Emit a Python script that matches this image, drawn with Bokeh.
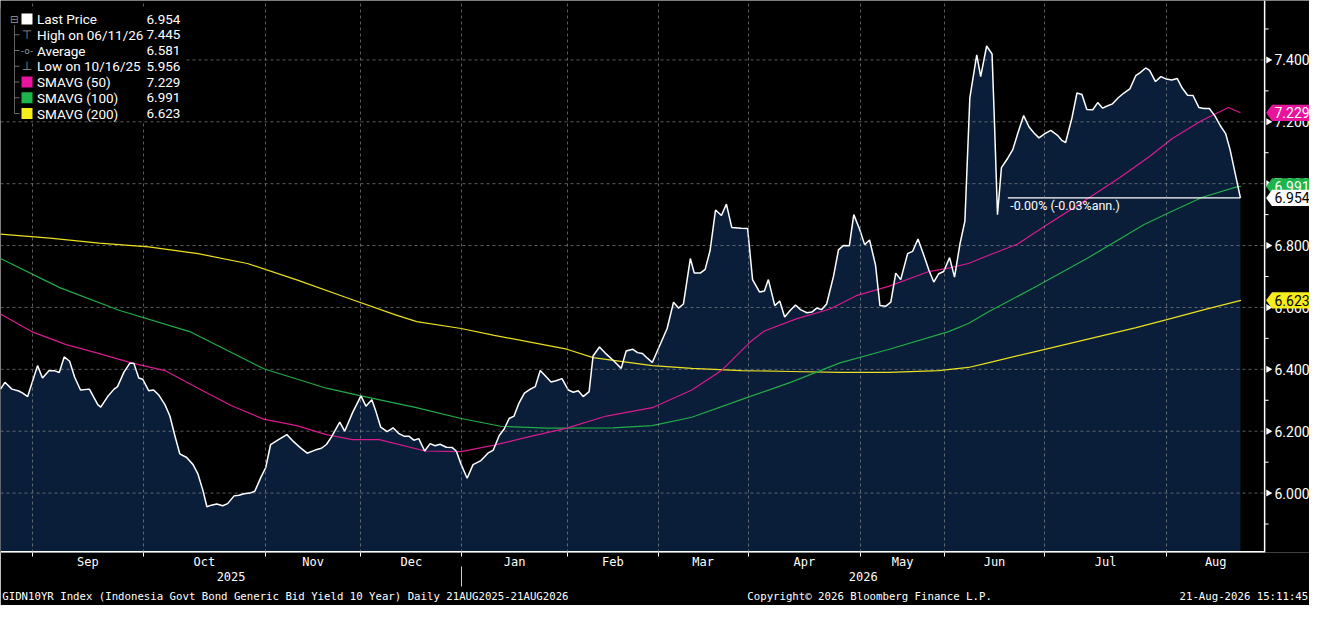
import math
from bokeh.plotting import figure
from bokeh.models import Range1d, FixedTicker, Label, BoxAnnotation, LinearAxis
from bokeh.core.properties import value
from bokeh.embed import file_html
from bokeh.resources import INLINE

# ---------------- data (trading-day index, yield %) ----------------
price_day = [
    0.0, 0.9, 2.3, 3.7, 4.5, 5.5, 7.5, 8.5, 9.8, 11.0,
    11.9, 12.9, 14.0, 15.0, 16.2, 18.0, 19.7, 20.3, 21.7, 23.0,
    23.7, 25.0, 26.2, 27.0, 28.0, 28.8, 30.0, 31.0, 32.0, 33.3,
    34.3, 35.3, 36.3, 37.7, 39.0, 40.0, 41.0, 41.8, 42.7, 43.8,
    45.0, 46.0, 47.3, 48.3, 49.3, 50.5, 51.5, 52.7, 53.7, 54.7,
    56.3, 58.0, 59.3, 60.7, 62.1, 63.7, 65.0, 66.0, 67.0, 68.7,
    69.7, 71.3, 73.0, 74.0, 75.2, 76.0, 77.0, 78.3, 79.5, 80.7,
    81.7, 82.7, 83.7, 84.7, 85.9, 87.0, 88.0, 89.0, 90.3, 91.5,
    92.3, 93.3, 94.5, 95.7, 97.3, 98.7, 99.8, 101.0, 102.0, 103.0,
    104.0, 105.0, 106.1, 107.3, 108.3, 109.3, 111.5, 112.5, 113.7, 115.0,
    116.0, 117.0, 118.0, 119.2, 120.0, 121.3, 122.7, 124.0, 125.7, 126.7,
    128.0, 129.0, 130.0, 131.0, 132.0, 135.0, 136.3, 137.3, 138.3, 139.7,
    140.5, 141.7, 142.7, 143.7, 144.8, 146.0, 147.0, 148.1, 150.0, 151.3,
    152.3, 153.7, 154.7, 155.5, 156.8, 157.8, 158.8, 160.0, 161.0, 162.0,
    163.3, 164.3, 165.3, 166.3, 167.3, 168.7, 169.7, 170.7, 171.9, 172.8,
    174.0, 175.0, 176.0, 177.2, 178.1, 179.3, 180.3, 181.3, 182.3, 183.7,
    184.7, 185.8, 187.0, 188.0, 189.0, 190.0, 191.0, 192.2, 193.2, 194.3,
    195.3, 196.3, 197.7, 198.5, 199.7, 200.8, 201.3, 201.9, 202.7, 204.0,
    205.0, 206.0, 207.2, 208.3, 209.3, 210.3, 211.5, 212.7, 214.0, 215.0,
    215.7, 217.0, 218.0, 219.0, 220.0, 221.2, 222.2, 223.2, 224.1, 225.2,
    226.3, 227.5, 228.7, 229.9, 230.8, 231.9, 232.7, 233.9, 235.0, 236.1,
    237.2, 238.3, 239.3, 240.4, 241.5, 242.7, 243.7, 244.8, 245.9, 247.0,
    248.1, 249.0, 250.0, 251.1,
]
price_val = [
    6.336, 6.358, 6.336, 6.330, 6.323, 6.312, 6.412, 6.372, 6.395, 6.395,
    6.390, 6.440, 6.426, 6.375, 6.333, 6.336, 6.286, 6.278, 6.312, 6.336,
    6.344, 6.391, 6.420, 6.420, 6.372, 6.368, 6.331, 6.333, 6.318, 6.286,
    6.249, 6.186, 6.127, 6.115, 6.092, 6.061, 6.008, 5.956, 5.961, 5.965,
    5.959, 5.966, 5.991, 5.993, 5.998, 6.000, 6.006, 6.050, 6.082, 6.157,
    6.173, 6.189, 6.167, 6.147, 6.129, 6.139, 6.145, 6.157, 6.181, 6.229,
    6.200, 6.260, 6.314, 6.281, 6.302, 6.265, 6.213, 6.199, 6.211, 6.192,
    6.184, 6.184, 6.171, 6.176, 6.136, 6.160, 6.153, 6.158, 6.148, 6.147,
    6.136, 6.092, 6.048, 6.092, 6.105, 6.129, 6.139, 6.186, 6.207, 6.241,
    6.249, 6.291, 6.323, 6.336, 6.344, 6.396, 6.359, 6.363, 6.370, 6.333,
    6.326, 6.331, 6.312, 6.328, 6.443, 6.472, 6.449, 6.430, 6.403, 6.459,
    6.465, 6.454, 6.451, 6.436, 6.422, 6.532, 6.617, 6.598, 6.611, 6.758,
    6.711, 6.711, 6.723, 6.784, 6.915, 6.897, 6.934, 6.858, 6.856, 6.855,
    6.690, 6.650, 6.653, 6.690, 6.606, 6.621, 6.569, 6.592, 6.608, 6.593,
    6.583, 6.585, 6.598, 6.593, 6.611, 6.701, 6.786, 6.800, 6.799, 6.900,
    6.852, 6.803, 6.818, 6.737, 6.606, 6.604, 6.617, 6.711, 6.690, 6.774,
    6.781, 6.821, 6.768, 6.721, 6.682, 6.709, 6.716, 6.761, 6.698, 6.805,
    6.879, 7.277, 7.416, 7.346, 7.445, 7.419, 7.193, 6.900, 7.052, 7.083,
    7.110, 7.162, 7.220, 7.183, 7.164, 7.148, 7.162, 7.172, 7.157, 7.139,
    7.133, 7.214, 7.293, 7.288, 7.240, 7.239, 7.262, 7.244, 7.251, 7.258,
    7.277, 7.293, 7.306, 7.349, 7.359, 7.374, 7.366, 7.330, 7.346, 7.338,
    7.335, 7.340, 7.309, 7.286, 7.285, 7.246, 7.243, 7.243, 7.220, 7.188,
    7.162, 7.110, 7.036, 6.954,
]

sma50_day = [0, 6.3, 13.3, 19.3, 26.7, 33.3, 40, 46.7, 53.3, 60, 66, 71.3, 76.7, 86, 93.3,
             100, 106.7, 114.7, 122.7, 132, 140, 146, 152, 154.7, 161.3, 168, 173.3, 180,
             188, 192, 196, 200, 206, 212, 219.3, 226.7, 232.7, 237.3, 243.3, 248.7, 251.1]
sma50_val = [6.579, 6.522, 6.480, 6.454, 6.420, 6.396, 6.339, 6.283, 6.239, 6.218, 6.189,
             6.173, 6.173, 6.136, 6.134, 6.155, 6.181, 6.210, 6.249, 6.276, 6.333, 6.396,
             6.491, 6.524, 6.564, 6.595, 6.638, 6.669, 6.716, 6.727, 6.742, 6.768, 6.805,
             6.868, 6.942, 7.020, 7.088, 7.146, 7.204, 7.246, 7.229]

sma100_day = [0, 12, 24, 38.3, 53.3, 66, 73, 84, 93.3, 101.3, 110.7, 124, 132, 140, 150,
              160, 170, 180, 192, 196, 200, 210, 220, 231.6, 236.6, 243.4, 250, 251.2]
sma100_val = [6.758, 6.664, 6.591, 6.522, 6.402, 6.339, 6.314, 6.277, 6.241, 6.216, 6.210,
              6.211, 6.218, 6.245, 6.302, 6.358, 6.421, 6.465, 6.522, 6.548, 6.585, 6.670,
              6.758, 6.868, 6.906, 6.956, 6.988, 6.991]

sma200_day = [0, 10, 20, 30, 40, 50, 60, 70, 80, 84.3, 93.3, 100, 114.7, 120, 132, 140, 150,
              160, 170, 180, 190, 196, 200, 210, 220, 230, 236, 244, 251.2]
sma200_val = [6.837, 6.824, 6.808, 6.796, 6.774, 6.742, 6.689, 6.632, 6.576, 6.554, 6.532,
              6.510, 6.465, 6.438, 6.412, 6.403, 6.396, 6.393, 6.390, 6.390, 6.396, 6.406,
              6.421, 6.459, 6.497, 6.535, 6.560, 6.594, 6.623]

month_start_day = [6.4, 29.0, 53.6, 73.0, 93.4, 114.8, 133.2, 151.4, 174.2, 191.2, 211.4, 236.2]
month_labels = ["Sep", "Oct", "Nov", "Dec", "Jan", "Feb", "Mar", "Apr", "May", "Jun", "Jul", "Aug"]
year_labels = ["2025", "2026"]
year_start_index = 4          # "Jan" opens 2026
y_ticks = [6.0, 6.2, 6.4, 6.6, 6.8, 7.0, 7.2, 7.4]
y_minor = [5.9, 6.1, 6.3, 6.5, 6.7, 6.9, 7.1, 7.3, 7.5]

legend_names = ["Last Price", "High on 06/11/26", "Average", "Low on 10/16/25",
                "SMAVG (50)", "SMAVG (100)", "SMAVG (200)"]
legend_values = [6.954, 7.445, 6.581, 5.956, 7.229, 6.991, 6.623]
change_text = "-0.00% (-0.03%ann.)"
change_start_day = 204.0
footer_texts = ["GIDN10YR Index (Indonesia Govt Bond Generic Bid Yield 10 Year) Daily 21AUG2025-21AUG2026",
                "Copyright\u00a9 2026 Bloomberg Finance L.P.",
                "21-Aug-2026 15:11:45"]

X_END = 256.0                  # end of the plotting area (days)
Y_LO, Y_HI = 5.808, 7.592

# ---------------- styles / layout ----------------
W, FH, BB = 1309, 552, 51
PX_PER_DAY = 4.938
X_MAX = W / PX_PER_DAY         # frame also holds the right-hand price scale
footer_pos = [57.7, 176.0, 251.8]
BG = "#000000"
FILL = "#0a1e39"
C50, C100, C200 = "#d81b8f", "#22ad47", "#ece020"
T50, T100, T200 = "#e8149b", "#1db54a", "#f7ec1c"
MONO = "DejaVu Sans Mono"
SANS = "Roboto"
GRID = "#9a9a9a"

p = figure(frame_width=W, frame_height=FH, x_range=Range1d(0, X_MAX), y_range=Range1d(Y_LO, Y_HI),
           y_axis_location=None, output_backend="svg", toolbar_location=None,
           background_fill_color=BG, border_fill_color=BG,
           min_border_left=0, min_border_top=0, min_border_right=0, min_border_bottom=BB)
p.outline_line_color = None

# vertical grid at month starts
xg = p.xgrid[0]
xg.ticker = FixedTicker(ticks=month_start_day)
xg.grid_line_color = GRID
xg.grid_line_alpha = 0.6
xg.grid_line_dash = "3 3"
xg.level = "glyph"
for g in p.ygrid:
    g.visible = False

# area under the price
area = p.varea(x=price_day, y1=Y_LO, y2=price_val, fill_color=FILL)
area.level = "underlay"
# horizontal grid (stops at the price scale)
p.segment(x0=[0] * len(y_ticks), x1=[X_END] * len(y_ticks), y0=y_ticks, y1=y_ticks,
          line_color=GRID, line_alpha=0.6, line_dash="3 3", line_width=1)

# moving averages + price
p.line(sma200_day, sma200_val, line_color=C200, line_width=1.2)
p.line(sma100_day, sma100_val, line_color=C100, line_width=1.2)
p.line(sma50_day, sma50_val, line_color=C50, line_width=1.2)
p.line(price_day, price_val, line_color="white", line_width=1.5)

# change annotation
p.line([change_start_day, price_day[-1]], [price_val[-1], price_val[-1]], line_color="white", line_width=1.3)
p.add_layout(Label(x=change_start_day + 0.5, y=price_val[-1], y_offset=-8, text=change_text,
                   text_font=SANS, text_font_size="12.5px", text_color="white",
                   text_baseline="middle", text_align="left"))

# ---------------- right-hand price scale ----------------
p.line([X_END, X_END], [Y_LO, Y_HI], line_color="white", line_width=1.5)
p.line([0, X_END], [Y_LO, Y_LO], line_color="white", line_width=3)
p.scatter(x=[X_END + 0.75] * len(y_ticks), y=y_ticks, marker="triangle", size=7,
          angle=-math.pi / 2, fill_color="white", line_color=None)
p.segment(x0=[X_END] * len(y_minor), x1=[X_END + 0.8] * len(y_minor), y0=y_minor, y1=y_minor,
          line_color="white", line_width=1)
p.text(x=[X_END + 2.0] * len(y_ticks), y=y_ticks, text=["%.3f" % t for t in y_ticks],
       text_font=value(SANS), text_font_size="14px", text_color="white",
       text_baseline="middle", text_align="left")

# value tags
TAG_H = 0.0262
tags = [(legend_values[5], T100, "white"), (legend_values[0], "white", "black"),
        (legend_values[4], T50, "white"), (legend_values[6], T200, "black")]
for val, bg, fg in tags:
    p.patch(x=[X_END + 0.3, X_END + 1.5, X_MAX + 1, X_MAX + 1, X_END + 1.5],
            y=[val, val + TAG_H, val + TAG_H, val - TAG_H, val - TAG_H],
            fill_color=bg, line_color=None)
    p.text(x=[X_END + 2.0], y=[val], text=["%.3f" % val], text_font=value(SANS),
           text_font_size="14px", text_color=fg, text_baseline="middle", text_align="left")

# ---------------- bottom axes ----------------
bounds = month_start_day + [X_END]
month_mid = [(bounds[i] + bounds[i + 1]) / 2 for i in range(len(month_labels))]
xa = p.xaxis[0]
xa.ticker = FixedTicker(ticks=month_mid, minor_ticks=month_start_day)
xa.major_label_overrides = {m: lab for m, lab in zip(month_mid, month_labels)}
xa.axis_line_color = None
xa.major_tick_line_color = None
xa.major_tick_in = 0
xa.major_tick_out = 0
xa.minor_tick_line_color = "white"
xa.minor_tick_in = 0
xa.minor_tick_out = 4
xa.major_label_standoff = -2
xa.major_label_text_font = MONO
xa.major_label_text_font_size = "12px"
xa.major_label_text_color = "white"

yb = [0.0, month_start_day[year_start_index], X_END]
year_mid = [(yb[i] + yb[i + 1]) / 2 for i in range(len(year_labels))]
ya2 = LinearAxis(ticker=FixedTicker(ticks=year_mid, minor_ticks=[]),
                 major_label_overrides={m: lab for m, lab in zip(year_mid, year_labels)},
                 axis_line_color=None, major_tick_line_color=None, major_tick_in=0, major_tick_out=0,
                 minor_tick_line_color=None, minor_tick_in=0, minor_tick_out=0,
                 major_label_standoff=0, major_label_text_font=MONO,
                 major_label_text_font_size="12px", major_label_text_color="white")
p.add_layout(ya2, "below")

# footer row; its single minor tick, drawn upwards, is the year separator
fa = LinearAxis(ticker=FixedTicker(ticks=footer_pos, minor_ticks=[month_start_day[year_start_index]]),
                major_label_overrides={m: t for m, t in zip(footer_pos, footer_texts)},
                axis_line_color=None, major_tick_line_color=None, major_tick_in=0, major_tick_out=0,
                minor_tick_line_color="#cfcfcf", minor_tick_in=17, minor_tick_out=3,
                major_label_standoff=3, major_label_text_font=MONO,
                major_label_text_font_size="10.7px", major_label_text_color="white")
p.add_layout(fa, "below")

# ---------------- legend box (top left) ----------------
p.add_layout(BoxAnnotation(left=0, right=184, top=8, bottom=120, left_units="canvas", right_units="canvas",
                           top_units="canvas", bottom_units="canvas", fill_color=BG, fill_alpha=1,
                           line_color=None, level="annotation"))
row0, step = 18.5, 15.75
rows = [row0 + i * step for i in range(len(legend_names))]
p.add_layout(Label(x=13.8, y=rows[0], x_units="canvas", y_units="canvas", text="\u229f",
                   text_font="DejaVu Sans", text_font_size="10px", text_color="#9a9a9a",
                   text_align="center", text_baseline="middle"))
p.add_layout(BoxAnnotation(left=13.5, right=14.5, top=rows[0] + 6, bottom=rows[-1],
                           left_units="canvas", right_units="canvas", top_units="canvas",
                           bottom_units="canvas", fill_color="#8a8a8a", fill_alpha=0.7, line_color=None))
icon_col = ["white", None, None, None, T50, T100, T200]
icon_txt = ["", "\u22a4", "-o-", "\u22a5", "", "", ""]
for i, ry in enumerate(rows):
    if i > 0:
        p.add_layout(BoxAnnotation(left=14, right=19, top=ry - 0.5, bottom=ry + 0.5,
                                   left_units="canvas", right_units="canvas", top_units="canvas",
                                   bottom_units="canvas", fill_color="#8a8a8a", fill_alpha=0.8,
                                   line_color=None))
    if icon_col[i]:
        p.add_layout(BoxAnnotation(left=21, right=32, top=ry - 5.5, bottom=ry + 5.5,
                                   left_units="canvas", right_units="canvas", top_units="canvas",
                                   bottom_units="canvas", fill_color=icon_col[i], fill_alpha=1,
                                   line_color=None))
    else:
        p.add_layout(Label(x=26.5, y=ry, x_units="canvas", y_units="canvas", text=icon_txt[i],
                           text_font="DejaVu Sans", text_font_size="9px" if i == 2 else "12px",
                           text_color="#9a9a9a", text_align="center", text_baseline="middle"))
    p.add_layout(Label(x=36.5, y=ry, x_units="canvas", y_units="canvas", text=legend_names[i],
                       text_font=SANS, text_font_size="13.5px", text_color="white",
                       text_align="left", text_baseline="middle"))
    p.add_layout(Label(x=146, y=ry, x_units="canvas", y_units="canvas", text="%.3f" % legend_values[i],
                       text_font=SANS, text_font_size="13.5px", text_color="white",
                       text_align="left", text_baseline="middle"))

open("out.html", "w").write(file_html(p, INLINE))
